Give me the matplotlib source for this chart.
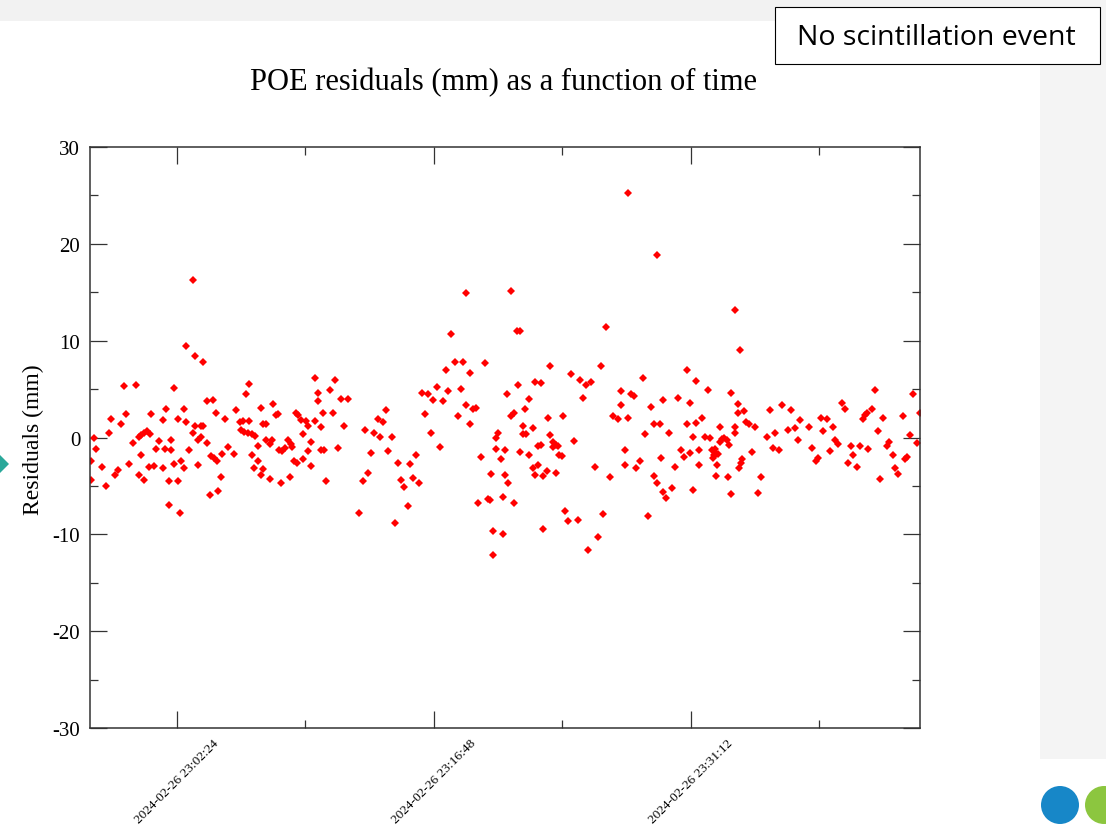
import matplotlib
matplotlib.use('Agg')
import matplotlib.pyplot as plt
import matplotlib.dates as mdates
from matplotlib.ticker import MultipleLocator
from matplotlib.patches import Rectangle, Ellipse, Polygon
import pandas as pd

plt.rcParams['axes.unicode_minus'] = False

# epoch times, minutes after 2024-02-26 23:00:00
minutes = [
    -2.42, -2.38, -2.25, -2.12, -1.75, -1.58, -1.41, -1.26, -1.04, -0.89,
    -0.72, -0.57, -0.42, -0.25, -0.03, 0.12, 0.27, 0.27, 0.42, 0.42,
    0.57, 0.57, 0.73, 0.83, 0.92, 0.96, 1.13, 1.26, 1.41, 1.63,
    1.65, 1.76, 1.80, 1.95, 1.95, 2.08, 2.10, 2.25, 2.25, 2.47,
    2.47, 2.62, 2.64, 2.79, 2.79, 2.92, 2.94, 3.09, 3.31, 3.33,
    3.46, 3.46, 3.61, 3.61, 3.76, 3.76, 3.91, 3.91, 4.13, 4.13,
    4.30, 4.34, 4.47, 4.52, 4.60, 4.68, 4.75, 4.90, 4.93, 5.14,
    5.29, 5.61, 5.74, 5.96, 6.02, 6.11, 6.17, 6.28, 6.39, 6.45,
    6.45, 6.60, 6.61, 6.76, 6.80, 6.97, 6.97, 7.12, 7.12, 7.25,
    7.25, 7.44, 7.44, 7.64, 7.66, 7.77, 7.81, 7.96, 8.11, 8.15,
    8.24, 8.33, 8.48, 8.67, 8.78, 8.82, 8.89, 8.97, 9.08, 9.13,
    9.23, 9.36, 9.49, 9.51, 9.64, 9.79, 9.79, 9.94, 9.94, 10.16,
    10.16, 10.31, 10.31, 10.48, 10.48, 10.63, 10.65, 10.76, 11.02, 11.15,
    11.30, 11.45, 11.62, 11.77, 11.99, 12.63, 12.85, 12.96, 13.15, 13.30,
    13.45, 13.67, 13.82, 13.97, 14.14, 14.27, 14.49, 14.66, 14.83, 14.96,
    15.13, 15.35, 15.48, 15.65, 15.82, 15.97, 16.17, 16.34, 16.51, 16.64,
    16.79, 17.01, 17.16, 17.31, 17.48, 17.63, 17.76, 18.00, 18.15, 18.32,
    18.47, 18.62, 18.62, 18.86, 18.86, 19.03, 19.18, 19.29, 19.46, 19.68,
    19.83, 19.98, 20.00, 20.15, 20.15, 20.28, 20.28, 20.43, 20.56, 20.67,
    20.67, 20.80, 20.82, 20.89, 20.97, 21.12, 21.16, 21.29, 21.29, 21.48,
    21.51, 21.66, 21.66, 21.81, 21.81, 21.94, 21.98, 22.13, 22.13, 22.35,
    22.35, 22.50, 22.50, 22.65, 22.65, 22.82, 22.82, 22.95, 22.95, 23.17,
    23.19, 23.34, 23.34, 23.49, 23.64, 23.66, 23.75, 23.49, 23.83, 24.01,
    24.03, 24.18, 24.33, 24.48, 24.65, 24.87, 25.02, 25.17, 25.34, 25.47,
    25.62, 25.86, 26.01, 26.16, 26.31, 26.46, 26.68, 26.83, 27.13, 27.30,
    27.30, 27.52, 27.52, 27.67, 27.67, 27.84, 28.01, 28.12, 28.38, 28.51,
    28.66, 28.81, 28.98, 29.13, 29.13, 29.35, 29.35, 29.50, 29.52, 29.65,
    29.65, 29.80, 29.97, 30.19, 30.34, 30.51, 30.66, 30.81, 31.03, 31.03,
    31.18, 31.18, 31.33, 31.33, 31.50, 31.50, 31.65, 31.65, 31.87, 32.02,
    32.17, 32.30, 32.41, 32.47, 32.52, 32.58, 32.62, 32.64, 32.69, 32.75,
    32.86, 32.86, 32.96, 33.08, 33.24, 33.31, 33.35, 33.46, 33.46, 33.68,
    33.70, 33.72, 33.85, 33.85, 33.94, 34.00, 34.04, 34.09, 34.17, 34.30,
    34.50, 34.67, 34.84, 34.99, 35.14, 35.51, 35.68, 35.81, 35.96, 36.18,
    36.35, 36.67, 36.82, 37.04, 37.21, 37.36, 37.83, 38.03, 38.24, 38.37,
    38.50, 38.65, 38.87, 39.02, 39.17, 39.32, 39.49, 39.71, 39.86, 40.05,
    40.18, 40.33, 40.55, 40.70, 40.85, 40.98, 41.08, 41.17, 41.39, 41.54,
    41.69, 41.82, 42.01, 42.20, 42.34, 42.53, 42.68, 42.83, 43.09, 43.22,
    43.35, 43.50, 43.69, 43.88, 44.06,
]

residuals_mm = [
    -2.4, -4.4, -0.1, -1.2, -3.0, -5.0, 0.5, 1.9, -3.9, -3.4,
    1.4, 5.3, 2.4, -2.7, -0.6, 5.4, 0.1, -3.9, 0.3, -1.8,
    0.5, -4.4, 0.7, -3.0, 0.4, 2.4, -2.9, -1.2, -0.4, -3.1,
    1.8, -1.2, 2.9, -4.5, -7.0, -0.3, -1.3, 5.1, -2.7, 1.9,
    -4.5, -7.8, -2.4, 2.9, -3.1, 9.4, 1.6, -1.3, 0.5, 16.3,
    1.2, 8.4, -0.3, -2.85, 1.2, 0.1, 1.2, 7.8, -0.6, 3.8,
    -5.9, -1.9, 3.9, -2.1, 2.5, -2.4, -5.5, -4.1, -1.7, 1.9,
    -1.0, -1.7, 2.8, 1.6, 0.8, 1.7, 0.6, 4.5, 0.5, 1.7,
    5.5, -1.8, 0.4, -3.1, 0.2, -0.9, -2.4, 3.0, -3.9, 1.4,
    -3.25, 1.4, -0.3, -0.7, -4.3, -0.3, 3.5, 2.3, 2.4, -1.3,
    -4.7, -1.4, -1.1, -0.3, -4.1, -0.7, -1.0, -2.4, 2.5, -2.6,
    2.3, 1.8, 0.4, -2.2, 1.7, 1.2, -1.4, -0.5, -2.9, 6.1,
    1.7, 4.6, 3.8, 1.05, -1.3, 2.5, -1.3, -4.5, 4.9, 2.5,
    5.9, -1.05, 4.0, 1.2, 4.0, -7.8, -4.5, 0.8, -3.7, -1.6,
    0.5, 1.9, 0.1, 1.6, 2.8, -1.4, 0.1, -8.8, -2.6, -4.4,
    -5.1, -7.1, -2.7, -4.2, -1.8, -4.7, 4.6, 2.4, 4.5, 0.5,
    3.9, 5.2, -1.0, 3.8, 7.0, 4.8, 10.7, 7.8, 2.2, 5.0,
    7.8, 3.4, 14.9, 6.7, 1.4, 2.9, 3.0, -6.8, -2.0, 7.7,
    -6.3, -6.5, -3.8, -9.7, -12.1, 0.0, -1.2, 0.5, -2.2, -10.0,
    -6.1, -1.3, -3.9, 4.5, -4.7, 15.1, 2.2, 2.5, -6.8, 11.0,
    5.4, 11.0, -1.5, 1.2, 0.4, 2.9, 0.4, 4.0, -1.8, 0.95,
    -3.1, 5.7, -3.9, -2.85, -0.9, 5.6, -0.8, -4.0, -9.45, -3.5,
    2.05, 7.4, 0.3, -0.5, -0.8, -3.7, -0.9, -1.0, -1.8, -1.9,
    2.2, -7.6, -8.6, 6.6, -0.4, -8.5, 5.9, 4.1, 5.4, -11.6,
    5.7, -3.0, -10.3, 7.4, -7.9, 11.4, -4.1, 2.2, 1.9, 4.8,
    3.4, -1.3, -2.85, 2.05, 25.3, 4.5, 4.3, -3.1, -2.4, 6.1,
    0.4, -8.1, 3.2, 1.4, -4.0, -4.7, 18.8, 1.4, -2.15, 3.9,
    -5.6, -6.2, 0.5, -5.2, -3.0, 4.1, -1.25, -2.0, 7.0, 1.4,
    3.6, -1.6, 0.1, -5.4, 5.8, 1.5, -1.25, -2.85, 2.0, 0.1,
    4.9, 0.0, -1.25, -2.15, -1.8, -1.2, -3.98, -1.75, -2.85, -1.7,
    1.05, -0.5, -0.15, -0.1, -0.3, -4.1, -0.8, 4.6, -5.8, 1.05,
    13.2, 0.5, 3.5, 2.5, -3.1, 9.0, -2.6, -2.2, 2.7, 1.6,
    1.4, -1.5, 1.05, -5.7, -4.1, 0.1, 2.8, -1.1, 0.5, -1.3,
    3.4, 0.8, 2.8, 1.0, -0.3, 1.8, 1.05, -1.1, -2.4, -2.15,
    2.05, 0.7, 1.9, -1.4, 1.05, -0.3, -0.7, 3.6, 2.9, -2.6,
    -0.9, -1.8, -3.0, -0.9, 1.9, 2.3, 2.5, -1.2, 2.9, 4.9,
    0.7, -4.25, 2.05, -0.9, -0.5, -1.8, -3.15, -3.8, 2.2, -2.2,
    -2.05, 0.3, 4.5, -0.6, 2.5,
]

y_ticks = [-30, -20, -10, 0, 10, 20, 30]

t0 = pd.Timestamp('2024-02-26 23:00:00')
times = t0 + pd.to_timedelta(minutes, unit='min')
x_left = t0 + pd.Timedelta(minutes=-2.45)
x_right = t0 + pd.Timedelta(minutes=44.06)

W, H = 1106, 829
fig = plt.figure(figsize=(W / 100, H / 100), dpi=100)
fig.patch.set_facecolor('white')

# slide background pieces
fig.add_artist(Rectangle((0, 1 - 22 / H), 1, 22 / H, transform=fig.transFigure,
                         color='#f2f2f2', lw=0, zorder=0))
fig.add_artist(Rectangle((1040 / W, 1 - 760 / H), 66 / W, 760 / H, transform=fig.transFigure,
                         color='#f4f4f4', lw=0, zorder=0))
fig.add_artist(Polygon([(0, 1 - 456 / H), (9 / W, 1 - 465 / H), (0, 1 - 474 / H)],
                       closed=True, transform=fig.transFigure, color='#2aa89a', lw=0))
fig.add_artist(Ellipse((1060 / W, 1 - 806 / H), 38 / W, 38 / H, transform=fig.transFigure,
                       color='#1787c8', lw=0))
fig.add_artist(Ellipse((1104 / W, 1 - 806 / H), 38 / W, 38 / H, transform=fig.transFigure,
                       color='#8cc63f', lw=0))

ax = fig.add_axes([90 / W, 1 - 729 / H, 830 / W, 581 / H])
ax.plot(times, residuals_mm, linestyle='none', marker='D', ms=3.9, mew=0, color='red')

ax.set_xlim(x_left, x_right)
ax.set_ylim(-30, 30)
ax.set_yticks(y_ticks)
ax.set_yticklabels([str(v) for v in y_ticks])
ax.yaxis.set_minor_locator(MultipleLocator(5))
# 0.01 day = 14.4 min between labelled ticks
ax.xaxis.set_major_locator(MultipleLocator(0.01))
ax.xaxis.set_minor_locator(MultipleLocator(0.005))
ax.xaxis.set_major_formatter(mdates.DateFormatter('%Y-%m-%d %H:%M:%S'))

for s in ax.spines.values():
    s.set_color('#333333')
    s.set_linewidth(1.1)
ax.tick_params(which='both', direction='in', top=True, right=True, color='#333333', width=0.9)
ax.tick_params(which='major', length=12)
ax.tick_params(which='minor', length=6)
ax.tick_params(axis='y', which='major', pad=7)
ax.tick_params(axis='x', which='major', pad=6)

for lab in ax.get_yticklabels():
    lab.set_fontfamily('Liberation Serif')
    lab.set_fontsize(15)
for lab in ax.get_xticklabels():
    lab.set_fontfamily('Liberation Serif')
    lab.set_fontsize(9.6)
    lab.set_rotation(45)
    lab.set_ha('center')

fig.text(503 / W, 1 - 83 / H, 'POE residuals (mm) as a function of time',
         ha='center', va='center', fontsize=22, family='Liberation Serif')
fig.text(33 / W, 1 - 440 / H, 'Residuals (mm)', rotation=90,
         ha='center', va='center', fontsize=17, family='Liberation Serif')

fig.add_artist(Rectangle((775 / W, 1 - 65 / H), 325 / W, 57 / H, transform=fig.transFigure,
                         facecolor='white', edgecolor='black', lw=0.8))
fig.text(936 / W, 1 - 38 / H, 'No scintillation event', ha='center', va='center',
         fontsize=20.5, family='Open Sans', color='black')

fig.savefig('out.png', dpi=100)
